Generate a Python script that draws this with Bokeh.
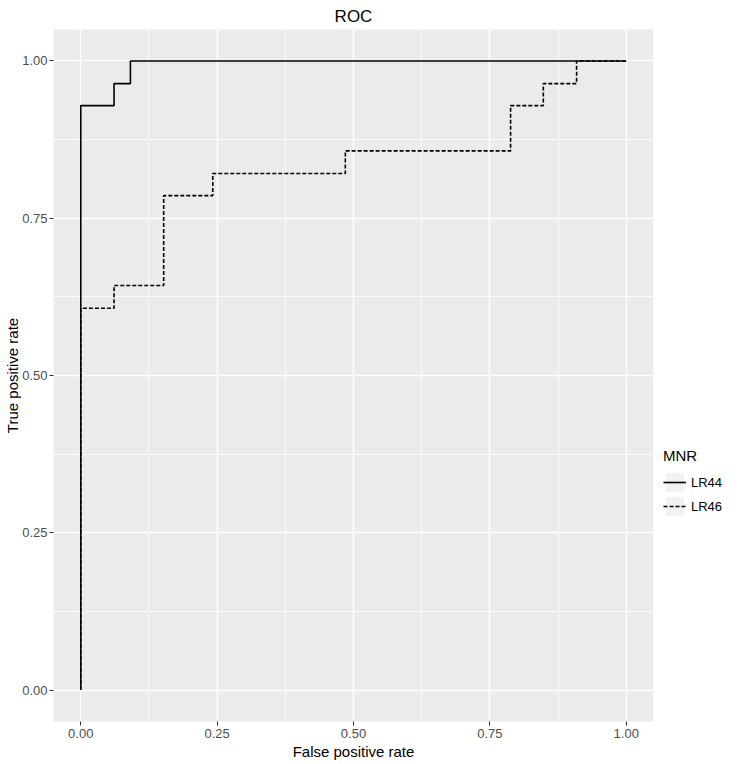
from bokeh.plotting import figure
from bokeh.models import FixedTicker, Legend, LegendItem, Range1d
from bokeh.layouts import row
from bokeh.embed import file_html
from bokeh.resources import INLINE

# ---- data ----
lr44_fpr = [0.0, 0.0, 0.061, 0.061, 0.091, 0.091, 1.0]
lr44_tpr = [0.0, 0.929, 0.929, 0.964, 0.964, 1.0, 1.0]

lr46_fpr = [0.0, 0.0, 0.061, 0.061, 0.152, 0.152, 0.242, 0.242, 0.485, 0.485,
            0.788, 0.788, 0.848, 0.848, 0.909, 0.909, 1.0]
lr46_tpr = [0.0, 0.607, 0.607, 0.643, 0.643, 0.786, 0.786, 0.821, 0.821, 0.857,
            0.857, 0.929, 0.929, 0.964, 0.964, 1.0, 1.0]

series_names = ["LR44", "LR46"]
major_ticks = [0.0, 0.25, 0.5, 0.75, 1.0]
minor_ticks = [0.125, 0.375, 0.625, 0.875]
tick_labels = {0.0: "0.00", 0.25: "0.25", 0.5: "0.50", 0.75: "0.75", 1.0: "1.00"}

FONT = "Liberation Sans"
DASH = "4 2"

# ---- main panel ----
p = figure(width=653, height=764, output_backend="svg", toolbar_location=None,
           x_range=Range1d(-0.05, 1.05), y_range=Range1d(-0.05, 1.05),
           min_border_left=53, min_border_right=0, min_border_top=28,
           min_border_bottom=43, title="ROC")

p.background_fill_color = "#EBEBEB"
p.border_fill_color = "white"
p.outline_line_color = None

p.title.align = "center"
p.title.text_font = FONT
p.title.text_font_size = "17px"
p.title.text_font_style = "normal"
p.title.text_color = "black"
p.title.text_line_height = 1.0
p.title.standoff = 8

for ax, lab in ((p.xaxis[0], "False positive rate"), (p.yaxis[0], "True positive rate")):
    ax.ticker = FixedTicker(ticks=major_ticks, minor_ticks=minor_ticks)
    ax.major_label_overrides = tick_labels
    ax.axis_label = lab
    ax.axis_label_text_font = FONT
    ax.axis_label_text_font_size = "15px"
    ax.axis_label_text_font_style = "normal"
    ax.axis_label_text_color = "black"
    ax.major_label_text_font = FONT
    ax.major_label_text_font_size = "13px"
    ax.major_label_text_color = "#4D4D4D"
    ax.axis_line_color = None
    ax.major_tick_line_color = "#333333"
    ax.major_tick_line_width = 1
    ax.major_tick_out = 4
    ax.major_tick_in = 0
    ax.minor_tick_line_color = None

p.xaxis[0].major_label_standoff = 3
p.xaxis[0].axis_label_standoff = 2
p.yaxis[0].major_label_standoff = 2
p.yaxis[0].axis_label_standoff = -2

for g in (p.xgrid[0], p.ygrid[0]):
    g.grid_line_color = "white"
    g.grid_line_width = 1.5
    g.minor_grid_line_color = "white"
    g.minor_grid_line_width = 0.8

p.line(lr44_fpr, lr44_tpr, line_color="black", line_width=1.6)
p.line(lr46_fpr, lr46_tpr, line_color="black", line_width=1.6, line_dash=DASH)

# ---- legend strip (renderers kept outside its view range, only keys show) ----
q = figure(width=87, height=764, output_backend="svg", toolbar_location=None,
           x_range=Range1d(2, 3), y_range=Range1d(2, 3), min_border=0)
q.axis.visible = False
q.grid.visible = False
q.outline_line_color = None
q.background_fill_color = "white"
q.border_fill_color = "white"

key_bg = q.rect(x=[lr44_fpr[0]], y=[lr44_tpr[0]], width=0, height=0,
                fill_color="#F2F2F2", line_color=None)
k44 = q.line(lr44_fpr, lr44_tpr, line_color="black", line_width=1.6)
k46 = q.line(lr46_fpr, lr46_tpr, line_color="black", line_width=1.6, line_dash=DASH)

legend = Legend(items=[LegendItem(label=series_names[0], renderers=[key_bg, k44]),
                       LegendItem(label=series_names[1], renderers=[key_bg, k46])],
                title="MNR", location=(10, 203))
legend.title_text_font = FONT
legend.title_text_font_size = "15px"
legend.title_text_font_style = "normal"
legend.title_text_color = "black"
legend.title_standoff = 6
legend.label_text_font = FONT
legend.label_text_font_size = "13px"
legend.label_text_color = "black"
legend.glyph_width = 23
legend.glyph_height = 24
legend.label_standoff = 5
legend.spacing = 0
legend.padding = 5
legend.margin = 0
legend.border_line_color = None
legend.background_fill_alpha = 0
q.add_layout(legend, "center")

layout = row(p, q, spacing=0)

open("out.html", "w").write(file_html(layout, INLINE))
